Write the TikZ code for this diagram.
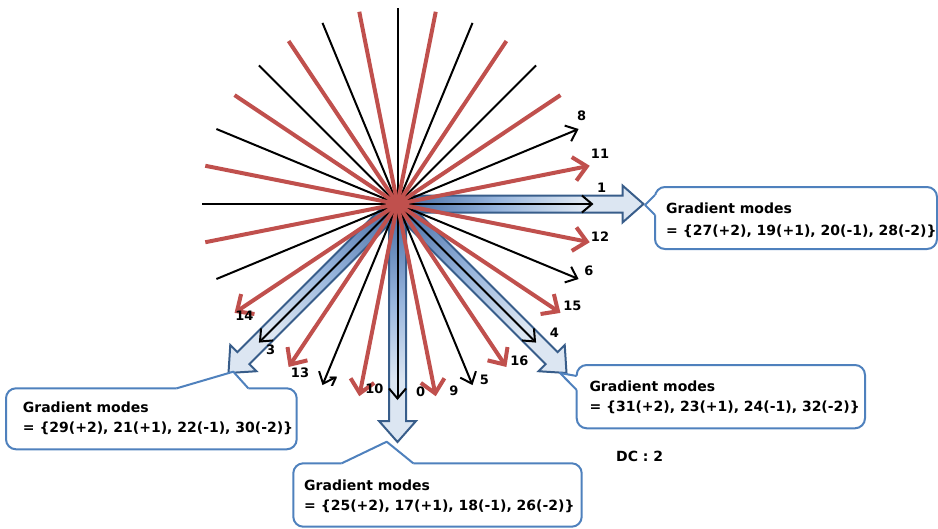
\documentclass[tikz,border=0pt]{standalone}
\usepackage{fontspec}
\setmainfont{DejaVu Sans}
\usetikzlibrary{arrows.meta,calc}
\definecolor{redline}{RGB}{192,80,77}
\definecolor{boxblue}{RGB}{79,129,189}
\definecolor{arrowborder}{RGB}{56,93,138}
\definecolor{bdark}{RGB}{66,104,160}
\definecolor{bmid}{RGB}{150,180,220}
\definecolor{blight}{RGB}{220,230,242}
\pgfdeclarehorizontalshading{bluearrowshade}{100bp}{color(0bp)=(bdark); color(25bp)=(bdark); color(45bp)=(bmid); color(62bp)=(blight); color(100bp)=(blight)}
\newcommand\mkbluearrow[2]{%
  \begin{scope}[transform canvas={shift={(397.5,204)},rotate=#1}]
    \shadedraw[bluearr] (0,-8.5) -- (#2-21,-8.5) -- (#2-21,-18.5) -- (#2,0) -- (#2-21,18.5) -- (#2-21,8.5) -- (0,8.5) -- cycle;
  \end{scope}}
\begin{document}
\begin{tikzpicture}[x=1pt,y=-1pt,
  blk/.style={line width=2pt,black},
  rd/.style={line width=4pt,redline},
  blkarr/.style={blk,-{Straight Barb[length=10pt,width=17pt]}},
  rdarr/.style={rd,-{Straight Barb[length=13pt,width=24pt]}},
  lbl/.style={font=\fontsize{13pt}{15pt}\bfseries\selectfont, inner sep=0pt},
  boxtxt/.style={font=\fontsize{14pt}{16pt}\bfseries\selectfont, inner sep=0pt, anchor=base west},
  callout/.style={draw=boxblue, line width=2pt, fill=white, rounded corners=10pt},
  tailline/.style={draw=boxblue, line width=2pt, line join=round},
  bluearr/.style={shading=bluearrowshade, draw=arrowborder, line width=2pt, line join=miter}
]
\useasboundingbox (0,0) rectangle (938,528);
\coordinate (c) at (397.5,204);

% wide blue arrows
\mkbluearrow{0}{246}
\mkbluearrow{270}{238}
\mkbluearrow{225}{239}
\mkbluearrow{315}{239}

% end points of the 32 directions
\foreach \k in {0,...,31}{
  \coordinate (e\k) at ($(c)+({\k*11.25}:196pt)$);
}
% black lines
\foreach \k in {0,2,...,30}{
  \ifnum\k<3 \draw[blkarr] (c) -- (e\k);
  \else\ifnum\k>18 \draw[blkarr] (c) -- (e\k);
  \else \draw[blk] (c) -- (e\k);
  \fi\fi
}
% red lines
\foreach \k in {1,3,...,31}{
  \ifnum\k<3 \draw[rdarr] (c) -- (e\k);
  \else\ifnum\k>18 \draw[rdarr] (c) -- (e\k);
  \else \draw[rd] (c) -- (e\k);
  \fi\fi
}

% direction labels
\node[lbl] (l8)  at (581.7,116)   {8};
\node[lbl] (l11) at (600,154)     {11};
\node[lbl] (l1)  at (601.7,187.3) {1};
\node[lbl] (l12) at (600,236.7)   {12};
\node[lbl] (l6)  at (589,271)     {6};
\node[lbl] (l15) at (572.3,306)   {15};
\node[lbl] (l4)  at (554.3,332.3) {4};
\node[lbl] (l16) at (519.3,361)   {16};
\node[lbl] (l5)  at (484.3,380)   {5};
\node[lbl] (l9)  at (454,390.7)   {9};
\node[lbl] (l0)  at (420.7,392)   {0};
\node[lbl] (l10) at (374.3,388.3) {10};
\node[lbl] (l7)  at (333.3,382)   {7};
\node[lbl] (l13) at (300,372.7)   {13};
\node[lbl] (l3)  at (270.7,349.3) {3};
\node[lbl] (l14) at (244.3,316)   {14};

% callout 1 (right)
\path[callout] (655,187) rectangle (937,249);
\fill[white] (655,195) -- (645,205) -- (655,215) -- (659,215) -- (659,195) -- cycle;
\draw[tailline] (655,195) -- (645,205) -- (655,215);
\node[boxtxt] (t1a) at (666,213.3) {Gradient modes};
\node[boxtxt] (t1b) at (666,235) {= \{27(+2), 19(+1), 20(-1), 28(-2)\}};

% callout 2 (left)
\path[callout] (6,388.3) rectangle (296.7,449.3);
\fill[white] (176.7,388.3) -- (233.3,371.7) -- (248.3,388.3) -- (248.3,392) -- (176.7,392) -- cycle;
\draw[tailline] (176.7,388.3) -- (233.3,371.7) -- (248.3,388.3);
\node[boxtxt] (t2a) at (22.7,412.3) {Gradient modes};
\node[boxtxt] (t2b) at (22.7,432.7) {= \{29(+2), 21(+1), 22(-1), 30(-2)\}};

% callout 3 (bottom)
\path[callout] (293.3,463.3) rectangle (581.7,526.7);
\fill[white] (341.7,463.3) -- (386.7,441.7) -- (413.3,463.3) -- (413.3,467) -- (341.7,467) -- cycle;
\draw[tailline] (341.7,463.3) -- (386.7,441.7) -- (413.3,463.3);
\node[boxtxt] (t3a) at (304,490) {Gradient modes};
\node[boxtxt] (t3b) at (304,510) {= \{25(+2), 17(+1), 18(-1), 26(-2)\}};

% callout 4 (lower right)
\path[callout] (576.7,365) rectangle (865,428.3);
\fill[white] (576.7,376) -- (560,373) -- (576.7,390) -- (580.5,390) -- (580.5,376) -- cycle;
\draw[tailline] (576.7,376) -- (560,373) -- (576.7,390);
\node[boxtxt] (t4a) at (589.3,391.7) {Gradient modes};
\node[boxtxt] (t4b) at (589.3,411.7) {= \{31(+2), 23(+1), 24(-1), 32(-2)\}};

\node[boxtxt] (dc) at (616,461.7) {DC : 2};
\end{tikzpicture}
\end{document}
